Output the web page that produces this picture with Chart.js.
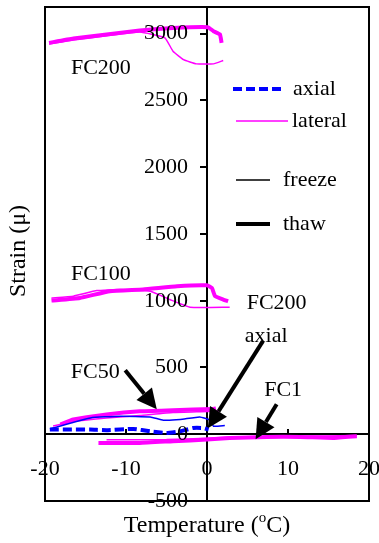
<!DOCTYPE html>
<html>
<head>
<meta charset="utf-8">
<script src="https://cdn.jsdelivr.net/npm/chart.js@4.4.0/dist/chart.umd.min.js"></script>
<style>
  html, body { margin: 0; padding: 0; background: #fff; }
  #wrap { position: relative; width: 379px; height: 543px; }
</style>
</head>
<body>
<div id="wrap"><canvas id="strainChart"></canvas></div>
<script>
// readings taken off the plot: temperature (°C) and strain (μ)
const xTicks = [-20, -10, 0, 10, 20];
const yTicks = [-500, 0, 500, 1000, 1500, 2000, 2500, 3000];

const fc200LatThawT = [-19.5, -16.5, -12.4, -8.3, -4.2, 0.1, 0.8, 1.6, 1.8];
const fc200LatThawS = [2931, 2964, 2994, 3024, 3043, 3049, 3019, 2994, 2931];
const fc200LatFreezeT = [2.0, 0.8, -1.3, -2.9, -4.2, -5.2, -8.3, -12.4, -16.5, -19.5];
const fc200LatFreezeS = [2799, 2774, 2774, 2806, 2869, 2969, 3012, 2984, 2952, 2922];

const fc100LatThawT = [-19.2, -15.7, -12.0, -7.9, -3.7, 0.0, 0.6, 1.0, 2.0, 2.6];
const fc100LatThawS = [1001, 1021, 1071, 1084, 1109, 1116, 1096, 1034, 1009, 996];
const fc100LatFreezeT = [2.8, -2.1, -4.6, -7.0, -10.7, -13.6, -16.5, -19.2];
const fc100LatFreezeS = [952, 952, 1009, 1071, 1084, 1076, 1034, 1021];

const fc50LatThawT = [-18.1, -16.5, -12.4, -8.3, -4.2, 0.8, 1.1];
const fc50LatThawS = [73, 110, 148, 172, 180, 190, 195];
const fc50LatFreezeT = [1.5, 0.0, -4.2, -8.3, -12.4, -16.5, -19.0];
const fc50LatFreezeS = [175, 170, 162, 140, 122, 95, 62];

const fc50AxThawT = [-19.4, -14.4, -12.4, -9.1, -7.0, -5.0, -3.3, -1.7, -0.5, 0.2];
const fc50AxThawS = [35, 35, 30, 40, 22, 10, 22, 47, 47, 35];
const fc50AxFreezeT = [-19.4, -14.4, -10.7, -7.0, -5.4, -3.3, -0.9, 0.4, 0.8, 2.2];
const fc50AxFreezeS = [40, 122, 135, 130, 105, 110, 130, 105, 60, 65];

const fc1LatThawT = [-13.4, -8.3, -4.2, 0.0, 2.8, 7.4, 11.5, 15.6, 18.5];
const fc1LatThawS = [-65, -65, -52, -40, -28, -20, -20, -28, -15];
const fc1LatFreezeT = [18.5, 10.0, 3.0, 0.0, -5.0, -12.4];
const fc1LatFreezeS = [-10, -15, -20, -30, -40, -42];

const legendNames = ['axial', 'lateral', 'freeze', 'thaw'];

const noteText = ['FC200', 'FC100', 'FC50', 'FC200', 'axial', 'FC1'];
const noteT = [-13.1, -13.1, -13.8, 8.6, 7.3, 9.4];
const noteS = [2742, 1199, 464, 981, 734, 330];

const arrowFromT = [-10.1, 6.9, 8.6];
const arrowFromS = [479, 697, 225];
const arrowToT = [-6.2, 0.1, 6.0];
const arrowToS = [187, 45, -37];

const MAGENTA = '#ff00ff';
const BLUE = '#0000ff';
const FONT = '"Liberation Serif", "Times New Roman", serif';

function pts(ts, ss) {
  return ts.map((t, i) => ({ x: t, y: ss[i] }));
}

function series(label, ts, ss, color, width, dash) {
  return {
    label,
    data: pts(ts, ss),
    showLine: true,
    borderColor: color,
    backgroundColor: color,
    borderWidth: width,
    borderDash: dash || [],
    pointRadius: 0,
    tension: 0.12,
  };
}

function arrow(ctx, x1, y1, x2, y2) {
  const ang = Math.atan2(y2 - y1, x2 - x1);
  const head = 20, half = 10;
  const bx = x2 - head * Math.cos(ang), by = y2 - head * Math.sin(ang);
  ctx.lineWidth = 4;
  ctx.beginPath();
  ctx.moveTo(x1, y1);
  ctx.lineTo(bx, by);
  ctx.stroke();
  ctx.beginPath();
  ctx.moveTo(x2, y2);
  ctx.lineTo(bx + half * Math.sin(ang), by - half * Math.cos(ang));
  ctx.lineTo(bx - half * Math.sin(ang), by + half * Math.cos(ang));
  ctx.closePath();
  ctx.fill();
}

const framePlugin = {
  id: 'frame',
  afterDraw(chart) {
    const { ctx, chartArea: a, scales: { x, y } } = chart;
    ctx.save();
    ctx.strokeStyle = '#000';
    ctx.fillStyle = '#000';
    ctx.lineWidth = 2;
    ctx.strokeRect(a.left, a.top, a.right - a.left, a.bottom - a.top);

    // tick labels: y left of the 0 °C line, x well below the 0 μ line
    ctx.font = `22px ${FONT}`;
    ctx.textBaseline = 'middle';
    const ax = x.getPixelForValue(0), ay = y.getPixelForValue(0);
    ctx.textAlign = 'right';
    y.ticks.forEach(t => ctx.fillText(String(t.value), ax - 19, y.getPixelForValue(t.value)));
    ctx.textAlign = 'center';
    x.ticks.forEach(t => ctx.fillText(String(t.value), x.getPixelForValue(t.value), ay + 35));

    // axis titles
    ctx.font = `24px ${FONT}`;
    ctx.save();
    ctx.translate(19, 251);
    ctx.rotate(-Math.PI / 2);
    ctx.fillText('Strain (μ)', 0, 0);
    ctx.restore();

    const p1 = 'Temperature (', sup = 'o', p2 = 'C)';
    const w1 = ctx.measureText(p1).width, w3 = ctx.measureText(p2).width;
    ctx.font = `15px ${FONT}`;
    const w2 = ctx.measureText(sup).width;
    const tx = (a.left + a.right) / 2 - (w1 + w2 + w3) / 2;
    ctx.textAlign = 'left';
    ctx.textBaseline = 'alphabetic';
    ctx.font = `24px ${FONT}`;
    ctx.fillText(p1, tx, 532);
    ctx.font = `15px ${FONT}`;
    ctx.fillText(sup, tx + w1, 522);
    ctx.font = `24px ${FONT}`;
    ctx.fillText(p2, tx + w1 + w2, 532);

    // legend
    ctx.font = `22px ${FONT}`;
    const lx = a.left, ly = a.top;
    ctx.textBaseline = 'middle';
    ctx.lineWidth = 4;
    ctx.strokeStyle = BLUE;
    ctx.setLineDash([9, 4]);
    ctx.beginPath(); ctx.moveTo(lx + 188, ly + 82); ctx.lineTo(lx + 240, ly + 82); ctx.stroke();
    ctx.setLineDash([]);
    ctx.lineWidth = 1.5;
    ctx.strokeStyle = MAGENTA;
    ctx.beginPath(); ctx.moveTo(lx + 191, ly + 114); ctx.lineTo(lx + 243, ly + 114); ctx.stroke();
    ctx.strokeStyle = '#000';
    ctx.beginPath(); ctx.moveTo(lx + 191, ly + 173); ctx.lineTo(lx + 225, ly + 173); ctx.stroke();
    ctx.lineWidth = 4;
    ctx.beginPath(); ctx.moveTo(lx + 191, ly + 217); ctx.lineTo(lx + 225, ly + 217); ctx.stroke();
    ctx.fillText(legendNames[0], lx + 248, ly + 82);
    ctx.fillText(legendNames[1], lx + 247, ly + 114);
    ctx.fillText(legendNames[2], lx + 238, ly + 173);
    ctx.fillText(legendNames[3], lx + 238, ly + 217);

    // labels and arrows
    ctx.textAlign = 'center';
    noteText.forEach((t, i) => ctx.fillText(t, x.getPixelForValue(noteT[i]), y.getPixelForValue(noteS[i])));
    ctx.strokeStyle = '#000';
    arrowFromT.forEach((t, i) => {
      arrow(ctx, x.getPixelForValue(t), y.getPixelForValue(arrowFromS[i]),
        x.getPixelForValue(arrowToT[i]), y.getPixelForValue(arrowToS[i]));
    });
    ctx.restore();
  },
};

Chart.defaults.font.family = FONT;
Chart.defaults.font.size = 22;
Chart.defaults.color = '#000';

new Chart(document.getElementById('strainChart'), {
  type: 'scatter',
  data: {
    datasets: [
      series('FC50 axial thaw', fc50AxThawT, fc50AxThawS, BLUE, 4, [9, 4]),
      series('FC50 axial freeze', fc50AxFreezeT, fc50AxFreezeS, BLUE, 1.5),
      series('FC1 lateral thaw', fc1LatThawT, fc1LatThawS, MAGENTA, 4),
      series('FC1 lateral freeze', fc1LatFreezeT, fc1LatFreezeS, MAGENTA, 1.5),
      series('FC50 lateral thaw', fc50LatThawT, fc50LatThawS, MAGENTA, 4),
      series('FC50 lateral freeze', fc50LatFreezeT, fc50LatFreezeS, MAGENTA, 1.5),
      series('FC100 lateral thaw', fc100LatThawT, fc100LatThawS, MAGENTA, 4),
      series('FC100 lateral freeze', fc100LatFreezeT, fc100LatFreezeS, MAGENTA, 1.5),
      series('FC200 lateral thaw', fc200LatThawT, fc200LatThawS, MAGENTA, 4),
      series('FC200 lateral freeze', fc200LatFreezeT, fc200LatFreezeS, MAGENTA, 1.5),
    ],
  },
  options: {
    responsive: true,
    maintainAspectRatio: false,
    animation: false,
    layout: { autoPadding: false, padding: { left: 45, right: 10, top: 7, bottom: 42 } },
    plugins: { legend: { display: false }, tooltip: { enabled: false } },
    scales: {
      x: {
        type: 'linear', min: -20, max: 20,
        position: { y: 0 },
        afterBuildTicks: s => { s.ticks = xTicks.map(v => ({ value: v })); },
        ticks: { display: false },
        grid: { drawOnChartArea: false, tickLength: -6, color: '#000', lineWidth: 2 },
        border: { color: '#000', width: 2 },
      },
      y: {
        type: 'linear', min: -500, max: 3200,
        position: { x: 0 },
        afterBuildTicks: s => { s.ticks = yTicks.map(v => ({ value: v })); },
        ticks: { display: false },
        grid: { drawOnChartArea: false, tickLength: 6, color: '#000', lineWidth: 2 },
        border: { color: '#000', width: 2 },
      },
    },
  },
  plugins: [framePlugin],
});
</script>
</body>
</html>
